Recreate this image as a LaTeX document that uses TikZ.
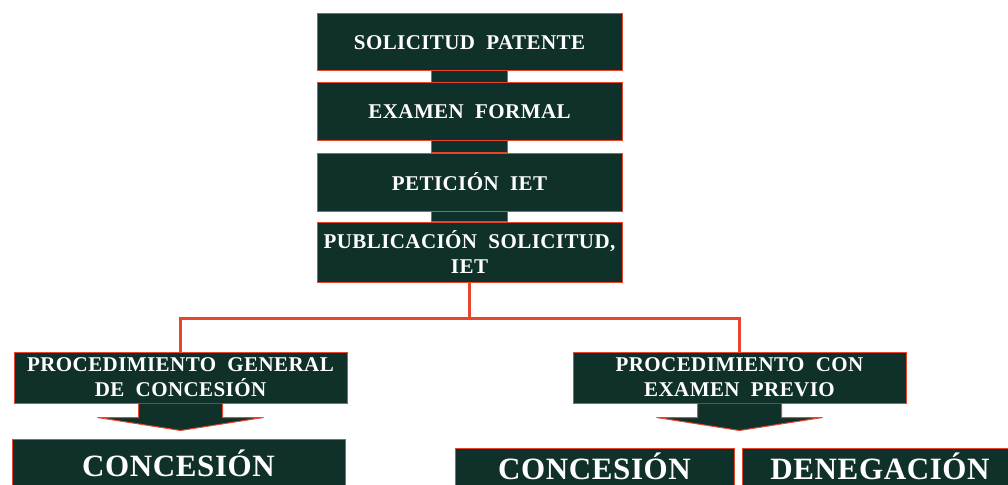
\documentclass[tikz,border=0pt]{standalone}
\usepackage{fontspec}
\setmainfont{Liberation Serif}[WordSpace=2,LetterSpace=2]
\definecolor{boxgreen}{RGB}{16,49,42}
\definecolor{linered}{RGB}{233,69,44}

\begin{document}
\begin{tikzpicture}[x=1pt, y=-1pt,
    stage/.style={draw=linered, fill=boxgreen, line width=1pt, rectangle, minimum width=305pt, minimum height=57pt, align=center, inner sep=0pt, text=white, font=\bfseries\fontsize{21}{25}\selectfont},
    route/.style={stage, minimum width=333pt, minimum height=51pt},
    result/.style={stage, text height=23pt, text depth=0pt, font=\bfseries\fontsize{31}{36}\selectfont},
    stem/.style={draw=linered, fill=boxgreen, line width=1pt},
    link/.style={draw=linered, line width=3pt}
]
\useasboundingbox (0,0) rectangle (1008,484);
\clip (0,0) rectangle (1008,484);

% main sequence
\node[stage] (sol) at (469.5,42.5) {SOLICITUD PATENTE};
\node[stage] (exf) at (469.5,111.5) {EXAMEN FORMAL};
\node[stage, minimum height=58pt] (pet) at (469.5,182) {PETICIÓN IET};
\node[stage, minimum height=60pt] (pub) at (469.5,252) {PUBLICACIÓN SOLICITUD,\\IET};

% the two procedures
\node[route] (pgc) at (180.5,377.5) {PROCEDIMIENTO GENERAL\\DE CONCESIÓN};
\node[route] (pcep) at (739.5,377.5) {PROCEDIMIENTO CON\\EXAMEN PREVIO};

% outcomes
\node[result, minimum width=333pt, minimum height=52pt] (con) at (178.5,465) {CONCESIÓN};
\node[result, minimum width=279pt, minimum height=40pt] (conb) at (594.5,468) {CONCESIÓN};
\node[result, minimum width=276pt, minimum height=40pt] (den) at (880,468) {DENEGACIÓN};

% necks between the stages
\foreach \a/\b in {sol/exf,exf/pet,pet/pub}
  \path[stem] ([xshift=-38pt]\a.south) -- ([xshift=-38pt]\b.north) -- ([xshift=38pt]\b.north) -- ([xshift=38pt]\a.south);

% fork
\draw[link] (pub.south) -- ++(0,36) coordinate (fork);
\draw[link] (pgc.north) |- (fork) -| (pcep.north);

% block arrows under the procedures
\foreach \n in {pgc,pcep}
  \path[stem] ([xshift=-42pt]\n.south) -- ++(0,14) -- ++(-41,0) -- ([yshift=-27pt]\n.south)
    -- ([xshift=83pt,yshift=-14pt]\n.south) -- ++(-41,0) -- ([xshift=42pt]\n.south);
\end{tikzpicture}
\end{document}
